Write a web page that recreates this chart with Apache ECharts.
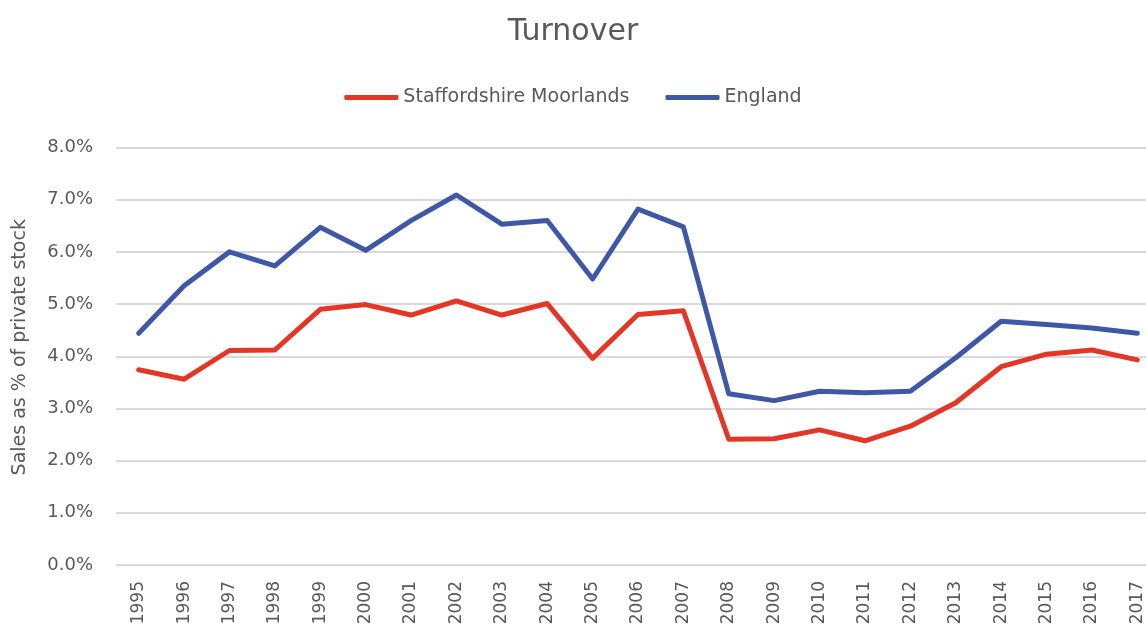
<!DOCTYPE html>
<html>
<head>
<meta charset="utf-8">
<script src="https://cdn.jsdelivr.net/npm/echarts@6/dist/echarts.min.js"></script>
<style>
html,body{margin:0;padding:0;background:#fff;}
#main{width:1146px;height:628px;}
</style>
</head>
<body>
<div id="main"></div>
<script>
const years = ["1995","1996","1997","1998","1999","2000","2001","2002","2003","2004","2005","2006","2007","2008","2009","2010","2011","2012","2013","2014","2015","2016","2017"];
const staffordshireMoorlands = [3.74,3.56,4.11,4.12,4.90,4.99,4.79,5.06,4.79,5.01,3.96,4.80,4.87,2.41,2.42,2.59,2.38,2.66,3.11,3.80,4.04,4.12,3.93];
const england = [4.44,5.35,6.00,5.73,6.47,6.03,6.60,7.09,6.53,6.60,5.48,6.82,6.48,3.28,3.15,3.33,3.30,3.33,3.97,4.67,4.61,4.54,4.44];
const yTicks = [0,1,2,3,4,5,6,7,8];

const font = '"DejaVu Sans", sans-serif';
const grey = '#595959';
const chart = echarts.init(document.getElementById('main'));
chart.setOption({
  animation: false,
  title: {
    text: 'Turnover', left: 'center', top: 12,
    textStyle: {fontFamily: font, fontSize: 30, fontWeight: 'normal', color: grey}
  },
  legend: {
    top: 83, left: 'center', itemWidth: 54, itemHeight: 5, itemGap: 36,
    icon: 'roundRect',
    textStyle: {fontFamily: font, fontSize: 19, color: grey},
    data: ['Staffordshire Moorlands', 'England']
  },
  grid: {left: 116, right: -14, top: 147.5, bottom: 63, outerBoundsMode: 'none', containLabel: false},
  xAxis: {
    type: 'category', data: years, boundaryGap: true,
    axisLine: {show: false}, axisTick: {show: false},
    axisLabel: {rotate: 90, fontFamily: font, fontSize: 17, color: grey, margin: 16, interval: 0}
  },
  yAxis: {
    type: 'value', min: yTicks[0], max: yTicks[yTicks.length-1], interval: 1,
    name: 'Sales as % of private stock', nameLocation: 'middle', nameGap: 86,
    nameTextStyle: {fontFamily: font, fontSize: 19, color: grey, padding: [0,0,0,18]},
    axisLabel: {fontFamily: font, fontSize: 18, color: grey, margin: 23,
      formatter: v => v.toFixed(1) + '%'},
    splitLine: {lineStyle: {color: '#d9d9d9', width: 2}},
    axisLine: {show: false}, axisTick: {show: false}
  },
  series: [
    {name: 'Staffordshire Moorlands', type: 'line', data: staffordshireMoorlands,
     symbol: 'none', lineStyle: {color: '#E33626', width: 5, cap: 'round', join: 'round'}, itemStyle: {color: '#E33626'}},
    {name: 'England', type: 'line', data: england,
     symbol: 'none', lineStyle: {color: '#3E58A7', width: 5, cap: 'round', join: 'round'}, itemStyle: {color: '#3E58A7'}}
  ]
});
</script>
</body>
</html>
